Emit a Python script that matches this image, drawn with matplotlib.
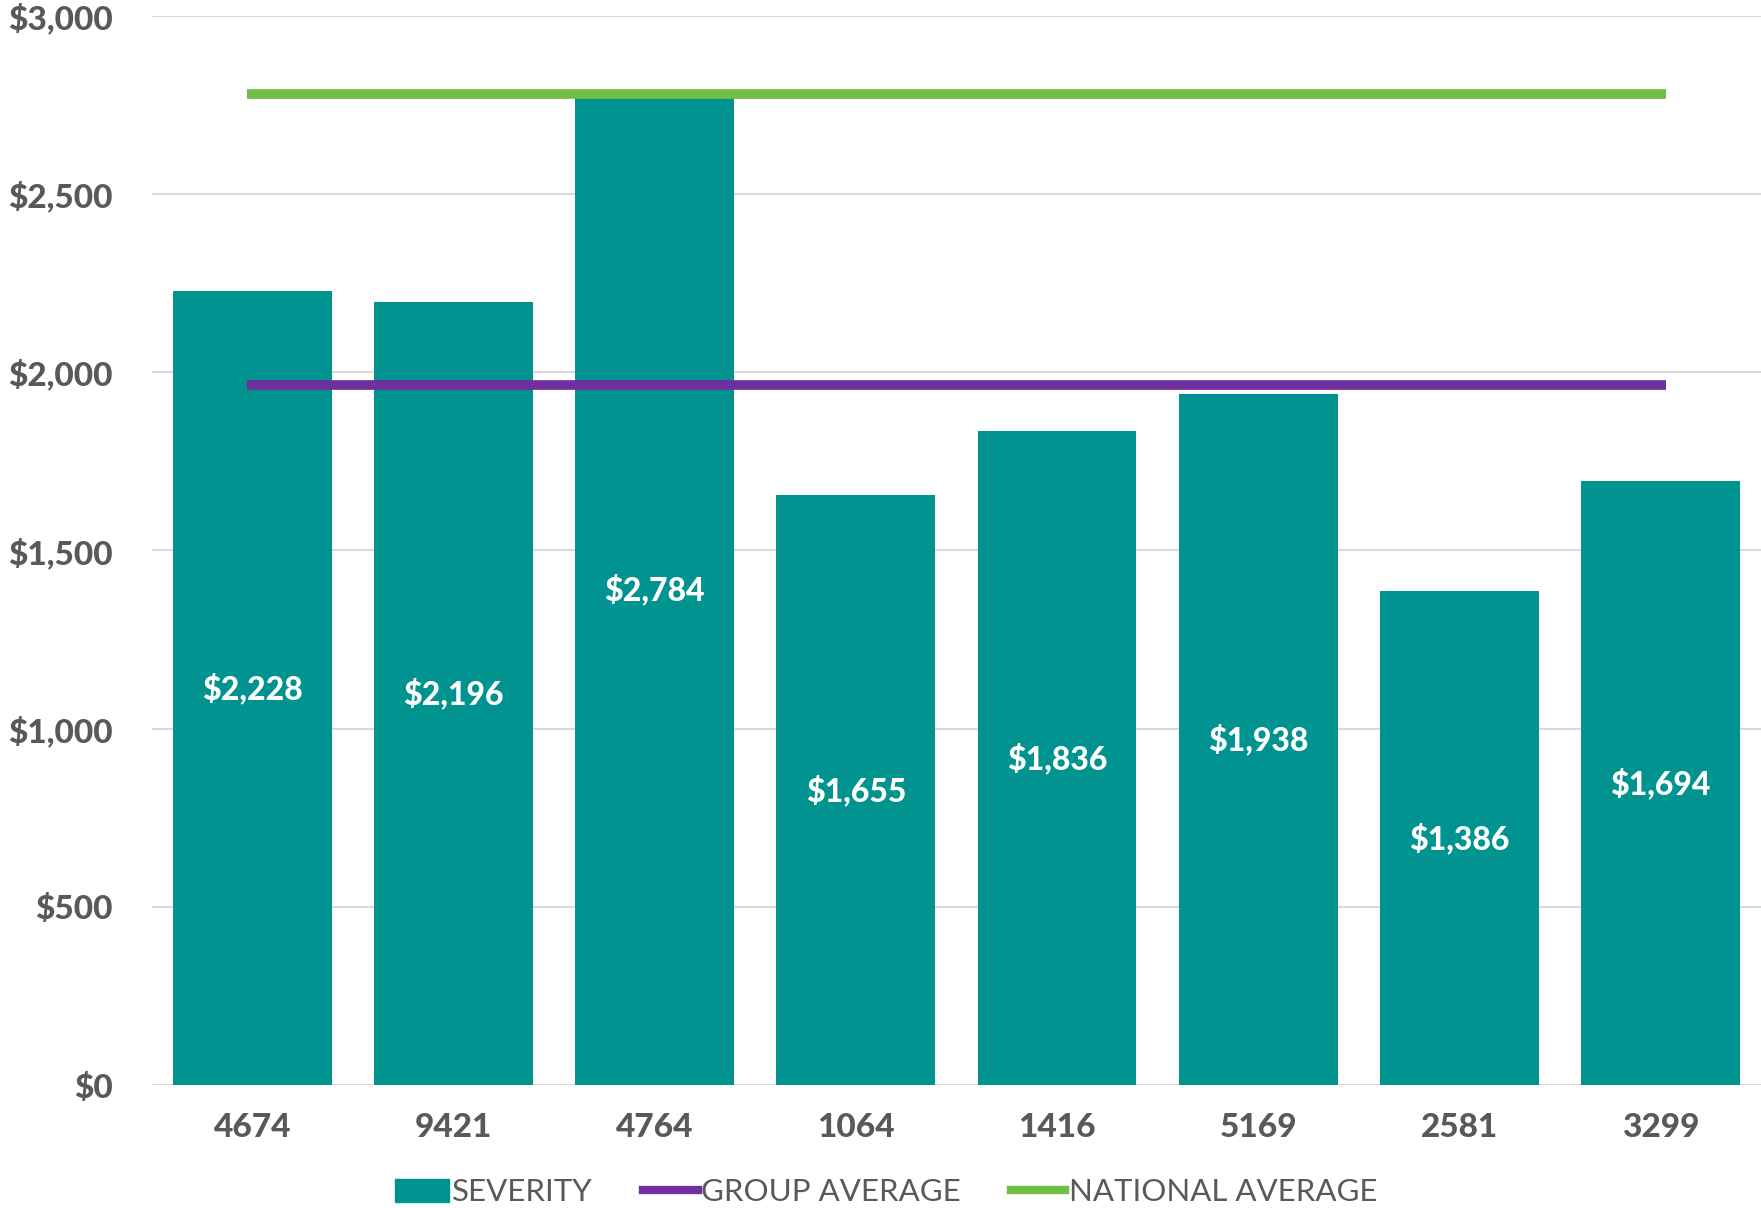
import numpy as np
import matplotlib.pyplot as plt
from matplotlib.patches import Patch
from matplotlib.lines import Line2D

plt.rcParams['font.family'] = ['Lato', 'DejaVu Sans']

codes = ['4674', '9421', '4764', '1064', '1416', '5169', '2581', '3299']
severity = [2228, 2196, 2784, 1655, 1836, 1938, 1386, 1694]
group_avg = 1965
national_avg = 2780
yticks = [0, 500, 1000, 1500, 2000, 2500, 3000]

teal = '#009390'
purple = '#7030a0'
green = '#70bf44'
grey = '#595959'

fig = plt.figure(figsize=(17.61, 12.08), dpi=100)
ax = fig.add_axes([0.0863, 0.1018, 0.9137, 0.885])

x = np.arange(len(codes))
ax.bar(x, severity, width=0.79, color=teal, zorder=2)
ax.plot([x[0] - 0.03, x[-1] + 0.03], [group_avg, group_avg], color=purple, lw=7,
        solid_capstyle='butt', zorder=3)
ax.plot([x[0] - 0.03, x[-1] + 0.03], [national_avg, national_avg], color=green, lw=7,
        solid_capstyle='butt', zorder=3)

for xi, v in zip(x, severity):
    ax.text(xi, v / 2, '${:,}'.format(v), ha='center', va='center', color='white',
            fontsize=23, fontweight='black', zorder=4)

ax.set_xlim(-0.5, 7.5)
ax.set_ylim(0, 3000)
ax.set_yticks(yticks)
ax.set_yticklabels(['${:,}'.format(t) for t in yticks])
ax.set_xticks(x)
ax.set_xticklabels(codes)
ax.tick_params(length=0, labelsize=24, labelcolor=grey, pad=20)
ax.tick_params(axis='y', pad=28)
for lab in ax.get_xticklabels() + ax.get_yticklabels():
    lab.set_fontweight('black')
ax.grid(axis='y', color='#d9d9d9', lw=1.5, zorder=0)
for s in ax.spines.values():
    s.set_visible(False)

handles = [Patch(color=teal), Line2D([], [], color=purple, lw=6), Line2D([], [], color=green, lw=6)]
fig.legend(handles, ['SEVERITY', 'GROUP AVERAGE', 'NATIONAL AVERAGE'], loc='lower center',
           bbox_to_anchor=(0.503, -0.022), ncol=3, frameon=False,
           handlelength=1.75, handleheight=0.75, handletextpad=0.1, columnspacing=1.6,
           labelcolor=grey, prop={'family': 'Lato', 'weight': 'normal', 'size': 22.5})

fig.savefig('out.png', dpi=100)
